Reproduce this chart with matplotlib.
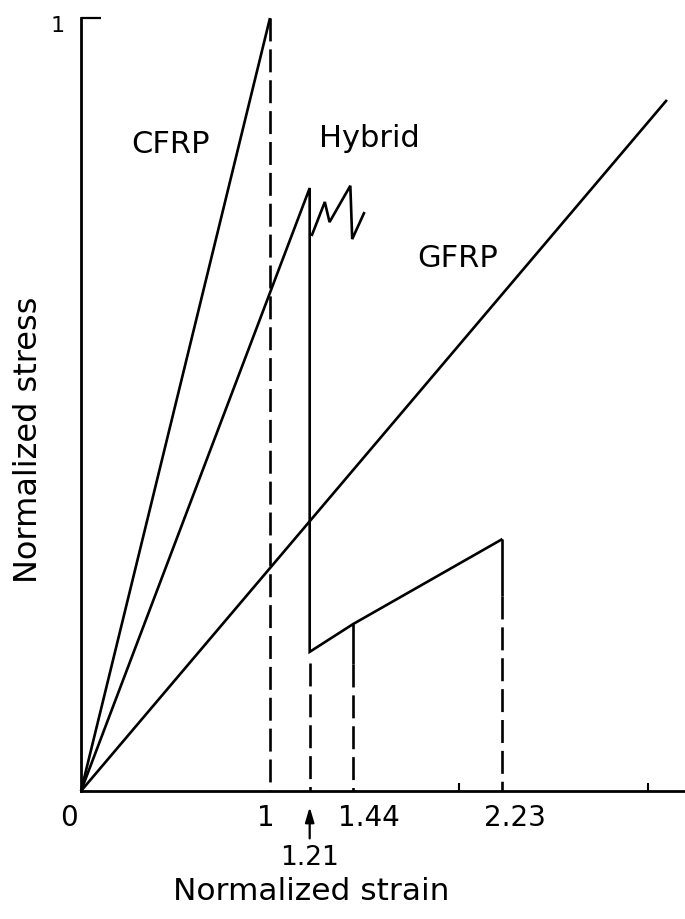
import matplotlib
matplotlib.use("Agg")
import matplotlib.pyplot as plt

# ---- data (normalized strain, normalized stress) ----
cfrp_strain = [0.0, 1.0]
cfrp_stress = [0.0, 1.0]

gfrp_strain = [0.0, 3.10]
gfrp_stress = [0.0, 0.894]

hybrid_strain = [0.0, 1.21, 1.21, 1.44, 2.23]
hybrid_stress = [0.0, 0.78, 0.180, 0.216, 0.326]

zigzag_strain = [1.22, 1.29, 1.315, 1.425, 1.435, 1.50]
zigzag_stress = [0.718, 0.762, 0.736, 0.783, 0.714, 0.749]

# dashed projection lines: (strain, top stress)
drop_strain = [1.0, 1.21, 1.44, 2.23]
drop_top = [1.0, 0.165, 0.164, 0.252]
# short solid stubs below kinks
stub_strain = [1.44, 2.23]
stub_top = [0.216, 0.326]
stub_bottom = [0.164, 0.252]

tick_values = [0, 1, 1.44, 2.23]
tick_labels = ["0", "1", "1.44", "2.23"]
tick_label_shift_px = [-12, -4, 16, 12]
minor_ticks = [2, 3]

labels = ["CFRP", "Hybrid", "GFRP"]
label_x = [0.474, 1.524, 1.995]
label_y = [0.827, 0.834, 0.679]

W, H = 685, 920
fig = plt.figure(figsize=(W / 100, H / 100), dpi=100)
ax = fig.add_axes([81 / W, 128 / H, 604 / W, 773 / H])
ax.set_xlim(0, 604 / 189)
ax.set_ylim(0, 1)

lw = 1.9
dash = (0, (8.7, 3.0))
kw = dict(color="black", lw=lw, clip_on=False, solid_capstyle="butt")

ax.plot(cfrp_strain, cfrp_stress, **kw)
ax.plot(gfrp_strain, gfrp_stress, **kw)
ax.plot(hybrid_strain, hybrid_stress, solid_joinstyle="miter", **kw)
ax.plot(zigzag_strain, zigzag_stress, solid_joinstyle="miter", **kw)
for xs, yt, yb in zip(stub_strain, stub_top, stub_bottom):
    ax.plot([xs, xs], [yt, yb], **kw)
for xs, yt in zip(drop_strain, drop_top):
    ax.plot([xs, xs], [yt, 0], linestyle=dash, dash_capstyle="butt",
            color="black", lw=lw, clip_on=False)

for t, x, y in zip(labels, label_x, label_y):
    ax.text(x, y, t, fontsize=22, ha="center", va="baseline")

# axes styling
for s in ["top", "right"]:
    ax.spines[s].set_visible(False)
for s in ["left", "bottom"]:
    ax.spines[s].set_linewidth(2.0)

ax.set_xticks(tick_values)
ax.set_xticklabels([])
ax.tick_params(axis="x", which="major", length=0)
ax.set_xticks(minor_ticks, minor=True)
ax.tick_params(axis="x", which="minor", direction="in", length=6, width=1.5)

ax.set_yticks([1])
ax.set_yticklabels([])
ax.tick_params(axis="y", which="major", direction="in", length=14.5, width=1.6)

for v, lab, dx in zip(tick_values, tick_labels, tick_label_shift_px):
    ax.annotate(lab, xy=(v, 0), xytext=(dx * 0.72, -9.0), textcoords="offset points",
                ha="center", va="top", fontsize=20, annotation_clip=False)

ax.annotate("1", xy=(0, 1), xytext=(-12, -5), textcoords="offset points",
            ha="right", va="center", fontsize=16, annotation_clip=False)

# 1.21 label with arrow
ax.annotate("1.21", xy=(1.21, 0), xytext=(0, -47.5), textcoords="offset points",
            ha="center", va="center", fontsize=19, annotation_clip=False,
            arrowprops=dict(arrowstyle="-|>,head_length=0.47,head_width=0.14",
                            color="black", lw=1.6, shrinkA=2, shrinkB=11.5))

ax.set_xlabel("Normalized strain", fontsize=22.5)
ax.xaxis.label.set_va("baseline")
ax.xaxis.set_label_coords((311 - 81) / 604, (792 - 900) / 773)

ax.set_ylabel("Normalized stress", fontsize=23)
ax.yaxis.label.set_va("baseline")
ax.yaxis.set_label_coords((37 - 81) / 604, (792 - 440) / 773)

fig.savefig("out.png", dpi=100)
